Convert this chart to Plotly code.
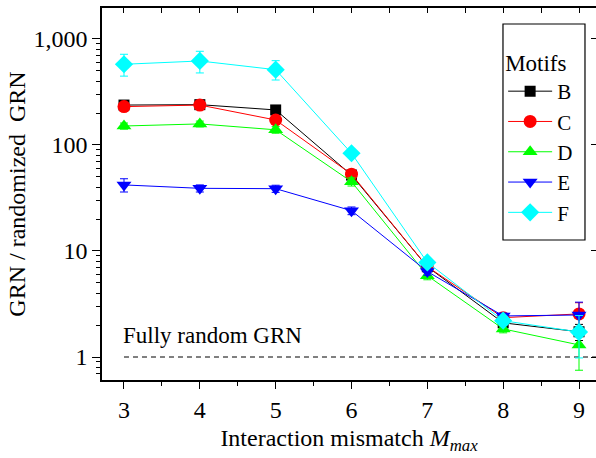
import plotly.graph_objects as go

x_vals = [3, 4, 5, 6, 7, 8, 9]
motifs = ["B", "C", "D", "E", "F"]
colors = ["#000000", "#FF0000", "#00FF00", "#0000FF", "#00FFFF"]
symbols = ["square", "circle", "triangle-up", "triangle-down", "diamond"]
msizes = [11, 13, 13, 13, 14]

B_vals = [238, 240, 214, 52, 7.1, 2.1, 1.73]
C_vals = [230, 238, 172, 53, 7.1, 2.35, 2.55]
D_vals = [151, 158, 139, 45, 5.85, 1.84, 1.30]
E_vals = [42, 39, 38.7, 24, 6.4, 2.44, 2.49]
F_vals = [577, 620, 513, 83.5, 7.8, 2.2, 1.72]

B_err = [12, 12, 12, 4, 0.5, 0.15, 0.3]
C_err = [12, 12, 10, 4, 0.5, 0.15, 0.7]
D_err = [10, 10, 10, 4, 0.5, 0.15, 0.55]
E_err = [6, 3, 3, 2, 0.5, 0.15, 0.8]
F_err_up = [140, 145, 111, 6, 0.6, 0.2, 0.74]
F_err_dn = [131, 142, 103, 6, 0.6, 0.2, 0.74]

series = [
    (B_vals, B_err, B_err),
    (C_vals, C_err, C_err),
    (D_vals, D_err, D_err),
    (E_vals, E_err, E_err),
    (F_vals, F_err_up, F_err_dn),
]

y_major = [1, 10, 100, 1000]
y_major_text = ["1", "10", "100", "1,000"]
y_minor = [m * 10 ** d for d in range(-1, 4) for m in range(2, 10)]
x_minor = [2.5 + 0.5 * i for i in range(0, 15)]

FONT = "Liberation Serif"
x_range = [2.71, 9.224]
y_range = [-0.217, 3.292]

fig = go.Figure()

# reference line: fully random GRN
fig.add_trace(go.Scatter(
    x=[3, x_range[1]], y=[1, 1], mode="lines",
    line=dict(color="black", width=1, dash="5px,4px"),
    showlegend=False, hoverinfo="skip"))

for name, col, sym, ms, (vals, eu, ed) in zip(motifs, colors, symbols, msizes, series):
    fig.add_trace(go.Scatter(
        x=x_vals, y=vals, name=name, mode="lines+markers",
        line=dict(color=col, width=1),
        marker=dict(symbol=sym, size=ms, color=col),
        error_y=dict(type="data", array=eu, arrayminus=ed, visible=True,
                     color=col, thickness=1, width=4),
    ))

# dummy trace for secondary (mirror) axes
fig.add_trace(go.Scatter(x=[3], y=[1], xaxis="x2", yaxis="y2", mode="markers",
                         marker=dict(opacity=0), showlegend=False, hoverinfo="skip"))

tick_font = dict(family=FONT, size=24, color="black")
title_font = dict(family=FONT, size=24, color="black")

fig.update_layout(
    width=596, height=458,
    margin=dict(l=102, r=0, t=8, b=78),
    paper_bgcolor="white", plot_bgcolor="white",
    font=dict(family=FONT, size=23, color="black"),
    xaxis=dict(
        range=x_range, tickmode="array", tickvals=x_vals, automargin=False,
        ticks="outside", ticklen=7, tickwidth=1, tickcolor="black",
        showline=True, linecolor="black", linewidth=1.5, mirror=True,
        showgrid=False, zeroline=False, tickfont=tick_font,
        minor=dict(tickmode="array", tickvals=x_minor, ticks="outside",
                   ticklen=4, tickcolor="black", showgrid=False),
        title=dict(text="Interaction mismatch <i>M</i><sub><i>max</i></sub>",
                   font=title_font, standoff=8),
    ),
    yaxis=dict(
        type="log", range=y_range, tickmode="array", automargin=False,
        tickvals=y_major, ticktext=y_major_text,
        ticks="outside", ticklen=8, tickwidth=1, tickcolor="black",
        showline=True, linecolor="black", linewidth=1.5,
        showgrid=False, zeroline=False, tickfont=tick_font,
        minor=dict(tickmode="array", tickvals=y_minor, ticks="outside",
                   ticklen=4, tickcolor="black", showgrid=False),
        title=dict(text="GRN / randomized&nbsp; GRN", font=title_font, standoff=1),
    ),
    xaxis2=dict(
        overlaying="x", side="top", range=x_range, anchor="y2", automargin=False,
        tickmode="array", tickvals=x_minor, ticks="inside", ticklen=5,
        tickcolor="black", showticklabels=False, showline=False,
        showgrid=False, zeroline=False,
    ),
    yaxis2=dict(
        overlaying="y", side="right", type="log", range=y_range, anchor="x2",
        automargin=False,
        tickmode="array", tickvals=y_major, ticks="inside", ticklen=5,
        tickcolor="black", showticklabels=False, showline=False,
        showgrid=False, zeroline=False,
    ),
    legend=dict(
        x=0.812, y=0.911, xanchor="left", yanchor="top",
        borderwidth=0, bgcolor="rgba(0,0,0,0)",
        title=dict(text="Motifs", font=dict(family=FONT, size=23)),
        font=dict(family=FONT, size=21), itemwidth=44,
        tracegroupgap=0,
    ),
    shapes=[dict(
        type="rect", xref="paper", yref="paper",
        x0=0.8117, x1=0.9777, y0=0.3763, y1=0.957,
        line=dict(color="black", width=1.2), fillcolor="white", layer="below",
    )],
    annotations=[dict(
        text="Fully random GRN", xref="x", yref="paper",
        x=3, y=(380 - 335) / 372, xanchor="left", yanchor="middle",
        showarrow=False, font=dict(family=FONT, size=23, color="black"),
        xshift=-3,
    )],
)

fig.write_html(
    "out.html",
    config={"displayModeBar": False},
    post_script="document.body.style.margin='0';document.body.style.padding='0';document.body.style.overflow='hidden';",
)
